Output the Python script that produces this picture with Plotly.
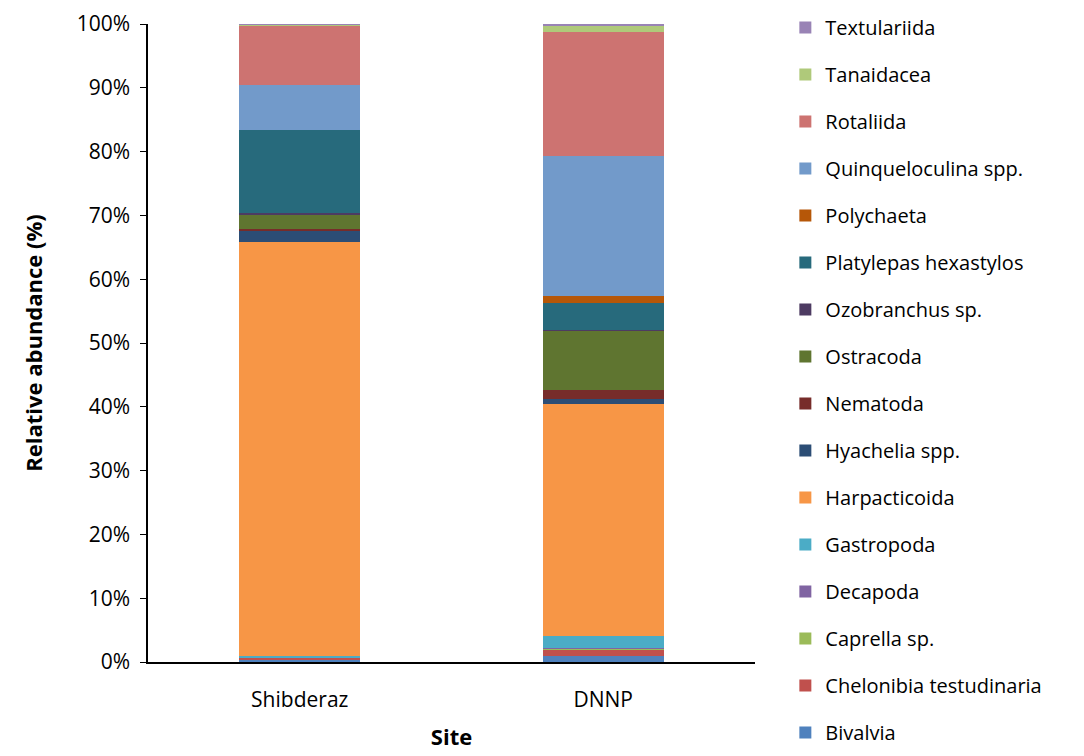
import plotly.graph_objects as go

sites = ["Shibderaz", "DNNP"]

# stacking order, bottom to top
taxa = ["Bivalvia", "Chelonibia testudinaria", "Caprella sp.", "Decapoda",
        "Gastropoda", "Harpacticoida", "Hyachelia spp.", "Nematoda",
        "Ostracoda", "Ozobranchus sp.", "Platylepas hexastylos", "Polychaeta",
        "Quinqueloculina spp.", "Rotaliida", "Tanaidacea", "Textulariida"]

# relative abundance (%) per taxon
shibderaz = [0.3, 0.4, 0.0, 0.0, 0.3, 64.8, 1.9, 0.2,
             2.3, 0.1, 13.1, 0.0, 7.0, 9.3, 0.2, 0.1]
dnnp = [1.0, 0.9, 0.2, 0.1, 1.9, 36.3, 0.9, 1.3,
        9.3, 0.1, 4.3, 1.1, 21.9, 19.4, 1.1, 0.2]

colors = ["#4F81BD", "#C0504D", "#9BBB59", "#8064A2", "#4BACC6", "#F79646",
          "#2C4D75", "#772C2A", "#5F7530", "#4D3B62", "#276A7C", "#B65708",
          "#729ACA", "#CD7371", "#AFC97A", "#9983B5"]

font = "Open Sans"

fig = go.Figure()

for i, name in enumerate(taxa):
    fig.add_trace(go.Bar(
        x=sites,
        y=[shibderaz[i], dnnp[i]],
        name=name,
        legendgroup=name,
        legendrank=len(taxa) - i,   # top of stack listed first
        marker=dict(color=colors[i], line=dict(width=0)),
    ))

fig.update_layout(
    barmode="stack",
    bargap=0.6,
    width=1084, height=756,
    margin=dict(l=140, r=337, t=16, b=102, autoexpand=False),
    plot_bgcolor="white",
    paper_bgcolor="white",
    font=dict(family=font, size=21, color="black"),
    legend=dict(
        xref="paper", x=1.05, xanchor="left",
        yref="container", y=1.0, yanchor="top",
        traceorder="grouped",
        tracegroupgap=18,
        font=dict(size=20),
        itemwidth=30,
        maxheight=756,
    ),
    xaxis=dict(
        title=dict(text="<b>Site</b>", font=dict(size=22), standoff=18),
        showline=True, linecolor="black", linewidth=1.5,
        ticks="", tickfont=dict(size=21), ticklabelstandoff=18,
        automargin=False,
    ),
    yaxis=dict(
        title=dict(text="<b>Relative abundance (%)</b>", font=dict(size=22), standoff=28),
        range=[0, 100],
        tickvals=[0, 10, 20, 30, 40, 50, 60, 70, 80, 90, 100],
        ticktext=["0%", "10%", "20%", "30%", "40%", "50%", "60%", "70%", "80%", "90%", "100%"],
        showline=True, linecolor="black", linewidth=1.5,
        ticks="outside", ticklen=6, tickcolor="black",
        showgrid=False, zeroline=False,
        tickfont=dict(size=21), ticklabelstandoff=6,
        automargin=False,
    ),
)

fig.write_html("out.html")
